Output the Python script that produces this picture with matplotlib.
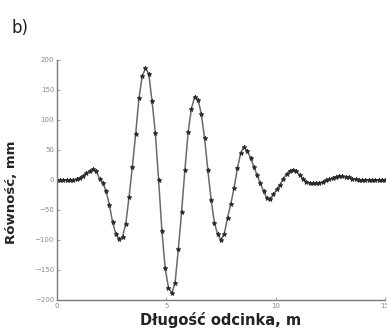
import numpy as np
import matplotlib
matplotlib.use("Agg")
import matplotlib.pyplot as plt

# odległość wzdłuż odcinka [m], próbki co 0.15 m
distance = np.linspace(0, 15, 101)

# równość [mm]
evenness = [
    0, 0, 0, 0, 0, 0, 1, 3, 7, 11,
    15, 18, 14, 2, -5, -19, -42, -71, -91, -99,
    -95, -73, -28, 22, 76, 136, 173, 186, 177, 131,
    78, 0, -85, -147, -180, -189, -172, -116, -53, 16,
    80, 119, 139, 134, 110, 70, 16, -33, -72, -91,
    -100, -90, -63, -40, -13, 19, 45, 55, 48, 37,
    22, 8, -6, -19, -31, -32, -24, -16, -8, 2,
    10, 15, 17, 14, 8, 2, -3, -5, -6, -6,
    -5, -3, -1, 1, 3, 5, 6, 6, 5, 4,
    2, 1, 0, 0, 0, 0, 0, 0, 0, 0,
    0,
]

xticks = [0, 5, 10, 15]
yticks = [-200, -150, -100, -50, 0, 50, 100, 150, 200]

fig = plt.figure(figsize=(3.87, 3.31), dpi=100)
ax = fig.add_axes([0.147, 0.094, 0.848, 0.725])

ax.plot(distance, evenness, color='#6a6a6a', lw=1.1, marker='*',
        markersize=3.5, markerfacecolor='#2a2a2a', markeredgecolor='#2a2a2a',
        markeredgewidth=0.6)

ax.set_xlim(0, 15)
ax.set_ylim(-200, 200)
ax.set_xticks(xticks)
ax.set_yticks(yticks)
ax.tick_params(direction='in', length=2, width=0.6, colors='#8a8a8a',
               labelsize=5, pad=2)
for s in ['top', 'right']:
    ax.spines[s].set_visible(False)
for s in ['left', 'bottom']:
    ax.spines[s].set_color('#7a7a7a')
    ax.spines[s].set_linewidth(1.0)

ax.set_xlabel('Długość odcinka, m', fontsize=10.5, fontweight='bold', color='#222222')
ax.xaxis.set_label_coords(0.5, -0.05)
ax.set_ylabel('Równość, mm', fontsize=9.5, fontweight='bold', color='#222222')
ax.yaxis.set_label_coords(-0.118, 0.45)

fig.text(0.03, 0.9, 'b)', fontsize=12, color='#222222')

fig.savefig('out.png', dpi=100)
